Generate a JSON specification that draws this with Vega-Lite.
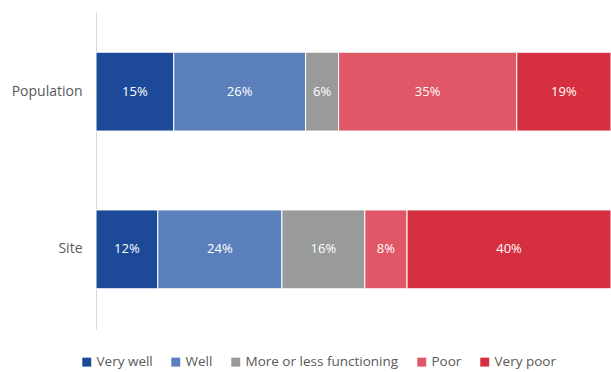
{
  "$schema": "https://vega.github.io/schema/vega-lite/v6.json",
  "autosize": {"type": "none"},
  "padding": {"left": 96, "top": 12, "right": 0, "bottom": 44},
  "width": 515,
  "height": 317,
  "background": "white",
  "config": {
    "view": {"stroke": null},
    "font": "Open Sans"
  },
  "data": {
    "values": [
      {"group": "Population", "cat": "Very well", "ord": 1, "v": 15.1, "label": "15%"},
      {"group": "Population", "cat": "Well", "ord": 2, "v": 25.6, "label": "26%"},
      {"group": "Population", "cat": "More or less functioning", "ord": 3, "v": 6.4, "label": "6%"},
      {"group": "Population", "cat": "Poor", "ord": 4, "v": 34.6, "label": "35%"},
      {"group": "Population", "cat": "Very poor", "ord": 5, "v": 18.3, "label": "19%"},
      {"group": "Site", "cat": "Very well", "ord": 1, "v": 12.0, "label": "12%"},
      {"group": "Site", "cat": "Well", "ord": 2, "v": 24.1, "label": "24%"},
      {"group": "Site", "cat": "More or less functioning", "ord": 3, "v": 16.1, "label": "16%"},
      {"group": "Site", "cat": "Poor", "ord": 4, "v": 8.2, "label": "8%"},
      {"group": "Site", "cat": "Very poor", "ord": 5, "v": 39.6, "label": "40%"}
    ]
  },
  "encoding": {
    "y": {
      "field": "group",
      "type": "nominal",
      "sort": ["Population", "Site"],
      "scale": {"paddingInner": 0.5, "paddingOuter": 0.255},
      "axis": {
        "title": null,
        "ticks": false,
        "domainColor": "#d9d9d9",
        "domainWidth": 1,
        "labelFontSize": 14,
        "labelColor": "#595959",
        "labelPadding": 14,
        "labelFont": "Open Sans"
      }
    },
    "x": {
      "field": "v",
      "type": "quantitative",
      "stack": "normalize",
      "scale": {"domain": [0, 1], "nice": false},
      "axis": null
    },
    "order": {"field": "ord", "type": "quantitative"}
  },
  "layer": [
    {
      "mark": {"type": "bar", "stroke": "white", "strokeWidth": 1},
      "encoding": {
        "color": {
          "field": "cat",
          "type": "nominal",
          "scale": {
            "domain": ["Very well", "Well", "More or less functioning", "Poor", "Very poor"],
            "range": ["#1c4a99", "#5a7fba", "#999b9b", "#e05867", "#d62f3f"]
          },
          "legend": {
            "title": null,
            "orient": "none",
            "direction": "horizontal",
            "legendX": -16,
            "legendY": 343,
            "symbolType": "square",
            "symbolSize": 80,
            "symbolStrokeWidth": 0,
            "labelFontSize": 13.5,
            "labelColor": "#595959",
            "labelFont": "Open Sans",
            "labelOffset": 3,
            "columnPadding": 16,
            "labelLimit": 300
          }
        }
      }
    },
    {
      "mark": {"type": "text", "color": "white", "fontSize": 13, "font": "Open Sans"},
      "encoding": {
        "x": {"field": "v", "type": "quantitative", "stack": "normalize", "bandPosition": 0.5},
        "text": {"field": "label"}
      }
    }
  ]
}
